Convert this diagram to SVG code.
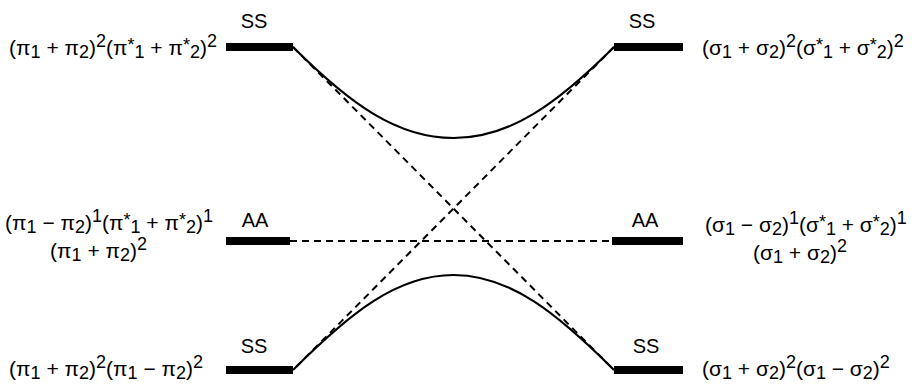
<svg xmlns="http://www.w3.org/2000/svg" width="918" height="385" viewBox="0 0 918 385">
<style>
text{font-family:"Liberation Sans",Arial,Helvetica,sans-serif;font-size:21px;fill:#000}
.sc{font-size:18px}
.tag{font-size:20px;text-anchor:middle}
.bar{stroke:#000;stroke-width:8;fill:none}
.sol{stroke:#000;stroke-width:2.2;fill:none}
.dash{stroke:#000;stroke-width:2;fill:none;stroke-dasharray:7 5}
</style>
<rect width="918" height="385" fill="#fff"/>
<g id="connectors">
<path class="sol" d="M293,47 C350,104 397,138 453.5,138 S557,104 614,47"/>
<path class="sol" d="M293,370 C350,313 397,275 453.5,275 S557,313 614,370"/>
<path class="dash" d="M293,47 L614,370"/>
<path class="dash" d="M614,47 L293,370"/>
<path class="dash" d="M290,241 L612,241"/>
</g>
<g id="left-SS-top">
<line class="bar" x1="226" y1="47" x2="293" y2="47"/>
<text class="tag" x="254" y="28">SS</text>
<text x="217" y="55" text-anchor="end">(π<tspan class="sc" dy="3">1</tspan><tspan dy="-3"> + π</tspan><tspan class="sc" dy="3">2</tspan><tspan dy="-3">)</tspan><tspan class="sc" dy="-8">2</tspan><tspan dy="8">(π</tspan><tspan class="sc" dy="-4">*</tspan><tspan class="sc" dy="7">1</tspan><tspan dy="-3"> + π</tspan><tspan class="sc" dy="-4">*</tspan><tspan class="sc" dy="7">2</tspan><tspan dy="-3">)</tspan><tspan class="sc" dy="-8">2</tspan></text>
</g>
<g id="right-SS-top">
<line class="bar" x1="614" y1="47" x2="683" y2="47"/>
<text class="tag" x="642" y="28">SS</text>
<text x="702" y="55">(σ<tspan class="sc" dy="3">1</tspan><tspan dy="-3"> + σ</tspan><tspan class="sc" dy="3">2</tspan><tspan dy="-3">)</tspan><tspan class="sc" dy="-8">2</tspan><tspan dy="8">(σ</tspan><tspan class="sc" dy="-4">*</tspan><tspan class="sc" dy="7">1</tspan><tspan dy="-3"> + σ</tspan><tspan class="sc" dy="-4">*</tspan><tspan class="sc" dy="7">2</tspan><tspan dy="-3">)</tspan><tspan class="sc" dy="-8">2</tspan></text>
</g>
<g id="left-AA">
<line class="bar" x1="226" y1="241" x2="290" y2="241"/>
<text class="tag" x="255" y="227">AA</text>
<text x="213" y="230" text-anchor="end">(π<tspan class="sc" dy="3">1</tspan><tspan dy="-3"> − π</tspan><tspan class="sc" dy="3">2</tspan><tspan dy="-3">)</tspan><tspan class="sc" dy="-8">1</tspan><tspan dy="8">(π</tspan><tspan class="sc" dy="-4">*</tspan><tspan class="sc" dy="7">1</tspan><tspan dy="-3"> + π</tspan><tspan class="sc" dy="-4">*</tspan><tspan class="sc" dy="7">2</tspan><tspan dy="-3">)</tspan><tspan class="sc" dy="-8">1</tspan></text>
<text x="147" y="258" text-anchor="end">(π<tspan class="sc" dy="3">1</tspan><tspan dy="-3"> + π</tspan><tspan class="sc" dy="3">2</tspan><tspan dy="-3">)</tspan><tspan class="sc" dy="-8">2</tspan></text>
</g>
<g id="right-AA">
<line class="bar" x1="612" y1="241" x2="683" y2="241"/>
<text class="tag" x="645" y="227">AA</text>
<text x="705" y="232">(σ<tspan class="sc" dy="3">1</tspan><tspan dy="-3"> − σ</tspan><tspan class="sc" dy="3">2</tspan><tspan dy="-3">)</tspan><tspan class="sc" dy="-8">1</tspan><tspan dy="8">(σ</tspan><tspan class="sc" dy="-4">*</tspan><tspan class="sc" dy="7">1</tspan><tspan dy="-3"> + σ</tspan><tspan class="sc" dy="-4">*</tspan><tspan class="sc" dy="7">2</tspan><tspan dy="-3">)</tspan><tspan class="sc" dy="-8">1</tspan></text>
<text x="753" y="260">(σ<tspan class="sc" dy="3">1</tspan><tspan dy="-3"> + σ</tspan><tspan class="sc" dy="3">2</tspan><tspan dy="-3">)</tspan><tspan class="sc" dy="-8">2</tspan></text>
</g>
<g id="left-SS-bottom">
<line class="bar" x1="226" y1="370" x2="293" y2="370"/>
<text class="tag" x="254" y="353">SS</text>
<text x="203" y="376" text-anchor="end">(π<tspan class="sc" dy="3">1</tspan><tspan dy="-3"> + π</tspan><tspan class="sc" dy="3">2</tspan><tspan dy="-3">)</tspan><tspan class="sc" dy="-8">2</tspan><tspan dy="8">(π</tspan><tspan class="sc" dy="3">1</tspan><tspan dy="-3"> − π</tspan><tspan class="sc" dy="3">2</tspan><tspan dy="-3">)</tspan><tspan class="sc" dy="-8">2</tspan></text>
</g>
<g id="right-SS-bottom">
<line class="bar" x1="614" y1="370" x2="683" y2="370"/>
<text class="tag" x="646" y="353">SS</text>
<text x="702" y="376">(σ<tspan class="sc" dy="3">1</tspan><tspan dy="-3"> + σ</tspan><tspan class="sc" dy="3">2</tspan><tspan dy="-3">)</tspan><tspan class="sc" dy="-8">2</tspan><tspan dy="8">(σ</tspan><tspan class="sc" dy="3">1</tspan><tspan dy="-3"> − σ</tspan><tspan class="sc" dy="3">2</tspan><tspan dy="-3">)</tspan><tspan class="sc" dy="-8">2</tspan></text>
</g>
</svg>
